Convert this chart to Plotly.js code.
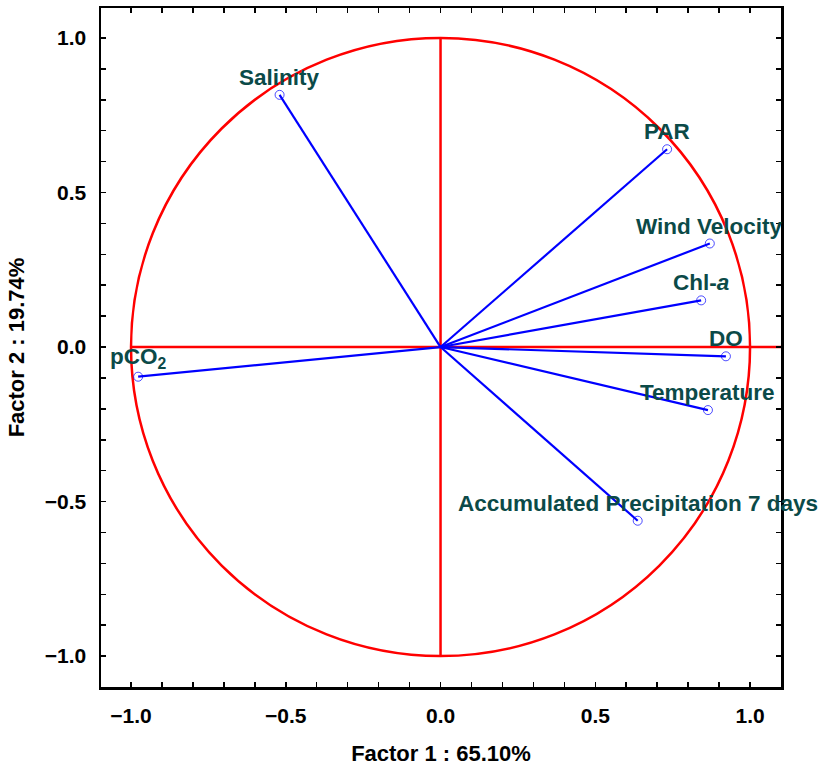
<!DOCTYPE html>
<html><head><meta charset="utf-8">
<script src="https://cdn.plot.ly/plotly-3.0.1.min.js"></script>
<style>body{margin:0;background:#fff}</style>
</head><body><div id="chart" style="width:827px;height:772px"></div>
<script>
const variables = ["Salinity","PAR","Wind Velocity","Chl-<i>a</i>","DO","Temperature","Accumulated Precipitation 7 days","pCO<sub>2</sub>"];
const factor1 = [-0.520, 0.732, 0.870, 0.842, 0.922, 0.864, 0.637, -0.977];
const factor2 = [0.816, 0.640, 0.335, 0.151, -0.030, -0.204, -0.562, -0.096];
const xTicks = [-1.0, -0.5, 0.0, 0.5, 1.0];
const yTicks = [-1.0, -0.5, 0.0, 0.5, 1.0];
const xTitle = "Factor 1 : 65.10%";
const yTitle = "Factor 2 : 19.74%";

const traces = variables.map((v,i)=>({
  type:'scatter', mode:'lines+markers',
  x:[0, factor1[i]], y:[0, factor2[i]],
  line:{color:'#0000ff', width:2.2},
  marker:{symbol:'circle-open', size:[0,9], color:'#0000ff', line:{width:1}},
  hoverinfo:'skip', showlegend:false
}));

const fontF = 'Liberation Sans, Arial, sans-serif';
const annotations = variables.map((v,i)=>({
  x:factor1[i], y:factor2[i], xref:'x', yref:'y', text:'<b>'+v+'</b>',
  showarrow:false, yanchor:'bottom', xanchor:'center', yshift:3,
  font:{family:fontF, size:22.5, color:'#0b4a48'}
}));

const axisCommon = {
  showgrid:false, zeroline:false, showline:true, linecolor:'#000', linewidth:2.5,
  mirror:'ticks', ticks:'inside', ticklen:5, tickwidth:1.5, tickcolor:'#000',
  minor:{dtick:0.1, ticks:'inside', ticklen:5, tickwidth:1.5, tickcolor:'#000'},
  tickfont:{family:fontF, size:21, color:'#000', weight:'bold'},
  tickformat:'.1f', ticklabelstandoff:8
};

const layout = {
  width:827, height:772,
  margin:{l:101, r:46, t:8, b:85},
  paper_bgcolor:'#fff', plot_bgcolor:'#fff',
  xaxis:Object.assign({}, axisCommon, {range:[-1.097,1.100], tickvals:xTicks,
    title:{text:xTitle, font:{family:fontF, size:22, color:'#000', weight:'bold'}, standoff:20}}),
  yaxis:Object.assign({}, axisCommon, {range:[-1.100,1.097], tickvals:yTicks,
    title:{text:yTitle, font:{family:fontF, size:22, color:'#000', weight:'bold'}, standoff:14}}),
  shapes:[
    {type:'circle', xref:'x', yref:'y', x0:-1, y0:-1, x1:1, y1:1, line:{color:'#ff0000', width:2.5}, layer:'below'},
    {type:'line', xref:'x', yref:'y', x0:-1, y0:0, x1:1.1, y1:0, line:{color:'#ff0000', width:2.5}, layer:'below'},
    {type:'line', xref:'x', yref:'y', x0:0, y0:-1, x1:0, y1:1, line:{color:'#ff0000', width:2.5}, layer:'below'}
  ],
  annotations:annotations,
  showlegend:false
};

Plotly.newPlot('chart', traces, layout, {displayModeBar:false, staticPlot:true});
</script></body></html>
